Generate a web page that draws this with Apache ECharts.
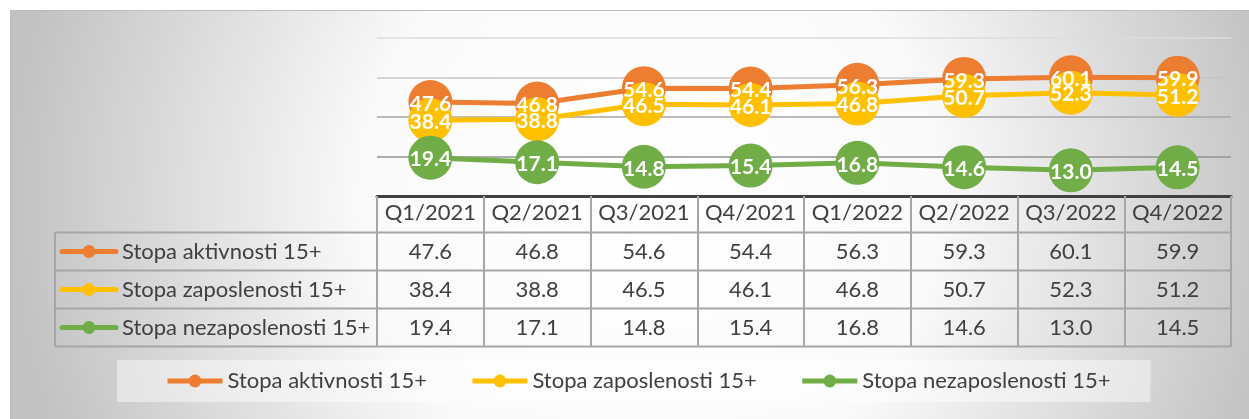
<!DOCTYPE html>
<html>
<head>
<meta charset="utf-8">
<script src="https://cdn.jsdelivr.net/npm/echarts@6/dist/echarts.min.js"></script>
<style>
  html, body { margin: 0; padding: 0; background: #ffffff; }
  #chart { width: 1249px; height: 419px; }
</style>
</head>
<body>
<div id="chart"></div>
<script>
// ---- data ----
const categories = ['Q1/2021', 'Q2/2021', 'Q3/2021', 'Q4/2021', 'Q1/2022', 'Q2/2022', 'Q3/2022', 'Q4/2022'];
const seriesNames = ['Stopa aktivnosti 15+', 'Stopa zaposlenosti 15+', 'Stopa nezaposlenosti 15+'];
const aktivnost = [47.6, 46.8, 54.6, 54.4, 56.3, 59.3, 60.1, 59.9];
const zaposlenost = [38.4, 38.8, 46.5, 46.1, 46.8, 50.7, 52.3, 51.2];
const nezaposlenost = [19.4, 17.1, 14.8, 15.4, 16.8, 14.6, 13.0, 14.5];
const seriesColors = ['#ED7D31', '#FFC000', '#70AD47'];
const seriesValues = [aktivnost, zaposlenost, nezaposlenost];

const FONT = 'Lato';
const TEXT_COLOR = '#404040';
const chart = echarts.init(document.getElementById('chart'), null, { renderer: 'canvas' });

const lineSeries = seriesNames.map((name, i) => ({
  name: name,
  type: 'line',
  data: seriesValues[i],
  symbol: 'circle',
  symbolSize: 44,
  z: 2 + i,
  lineStyle: { color: seriesColors[i], width: 5 },
  itemStyle: { color: seriesColors[i] },
  emphasis: { disabled: true },
  label: { show: false }
}));
// label overlay series so that every value label is drawn above all markers
const labelSeries = seriesNames.map((name, i) => ({
  name: name + ' (label)',
  type: 'line',
  data: seriesValues[i],
  symbol: 'circle',
  symbolSize: 1,
  z: 10,
  silent: true,
  lineStyle: { width: 0, opacity: 0 },
  itemStyle: { color: 'rgba(0,0,0,0)' },
  emphasis: { disabled: true },
  label: {
    show: true,
    position: 'inside',
    offset: [0, 2],
    color: '#ffffff',
    fontFamily: FONT,
    fontWeight: 'bold',
    fontSize: 21,
    formatter: p => Number(p.value).toFixed(1)
  }
}));

const option = {
  animation: false,
  textStyle: { fontFamily: FONT },
  grid: { left: 377, right: 18, top: 38, bottom: 223 },
  xAxis: {
    type: 'category',
    data: categories,
    boundaryGap: true,
    axisLine: { lineStyle: { color: '#404040', width: 3 } },
    axisTick: { show: true, interval: 0, length: 151, lineStyle: { color: '#a6a6a6', width: 2 } },
    axisLabel: { interval: 0, margin: 6, fontSize: 22, color: TEXT_COLOR, fontFamily: FONT }
  },
  yAxis: {
    type: 'value',
    min: 0, max: 80, interval: 20,
    axisLabel: { show: false },
    axisLine: { show: false },
    axisTick: { show: false },
    splitLine: { lineStyle: { color: ['#595959', '#929292', '#a6a6a6', '#c6c6c6', '#dcdcdc'], width: 1.5 } }
  },
  legend: {
    data: seriesNames,
    left: 117, top: 360,
    itemWidth: 55, itemHeight: 16, itemGap: 43,
    padding: [10, 40, 10, 48],
    backgroundColor: 'rgba(255,255,255,0.45)',
    lineStyle: { width: 5 },
    textStyle: { fontSize: 22, color: TEXT_COLOR, fontFamily: FONT },
    selectedMode: false
  },
  series: lineSeries.concat(labelSeries)
};
chart.setOption(option);

// ---- background, data table drawn from the axis scale ----
const rowTop = [232.5, 270.5, 308.5, 346.5];
const graphics = [];
graphics.push({
  type: 'rect', z: -10, silent: true,
  shape: { x: 10.5, y: 10.5, width: 1245, height: 415 },
  style: {
    fill: new echarts.graphic.RadialGradient(650, 200, 640, [
      { offset: 0, color: '#ffffff' },
      { offset: 0.45, color: '#fafafa' },
      { offset: 1, color: '#c2c2c2' }
    ], true),
    stroke: '#bdbdbd', lineWidth: 1
  }
});
const band = (chart.convertToPixel({ xAxisIndex: 0 }, categories[1]) - chart.convertToPixel({ xAxisIndex: 0 }, categories[0]));
const tableRight = chart.convertToPixel({ xAxisIndex: 0 }, categories[categories.length - 1]) + band / 2;
rowTop.forEach(y => {
  graphics.push({ type: 'line', z: 5, silent: true, shape: { x1: 55, y1: y, x2: tableRight, y2: y }, style: { stroke: '#a6a6a6', lineWidth: 2 } });
});
graphics.push({ type: 'line', z: 5, silent: true, shape: { x1: 55, y1: rowTop[0], x2: 55, y2: rowTop[3] }, style: { stroke: '#a6a6a6', lineWidth: 2 } });
seriesNames.forEach((name, r) => {
  const cy = (rowTop[r] + rowTop[r + 1]) / 2;
  graphics.push({ type: 'line', z: 5, silent: true, shape: { x1: 62, y1: cy, x2: 116, y2: cy }, style: { stroke: seriesColors[r], lineWidth: 5, lineCap: 'round' } });
  graphics.push({ type: 'circle', z: 6, silent: true, shape: { cx: 89, cy: cy, r: 6.5 }, style: { fill: seriesColors[r] } });
  graphics.push({ type: 'text', z: 6, silent: true, x: 122, y: cy, style: { text: name, fontSize: 22, fontFamily: FONT, fill: TEXT_COLOR, align: 'left', verticalAlign: 'middle' } });
  seriesValues[r].forEach((v, c) => {
    const cx = chart.convertToPixel({ xAxisIndex: 0 }, categories[c]);
    graphics.push({ type: 'text', z: 6, silent: true, x: cx, y: cy, style: { text: v.toFixed(1), fontSize: 22, fontFamily: FONT, fill: TEXT_COLOR, align: 'center', verticalAlign: 'middle' } });
  });
});
chart.setOption({ graphic: graphics });
</script>
</body>
</html>
